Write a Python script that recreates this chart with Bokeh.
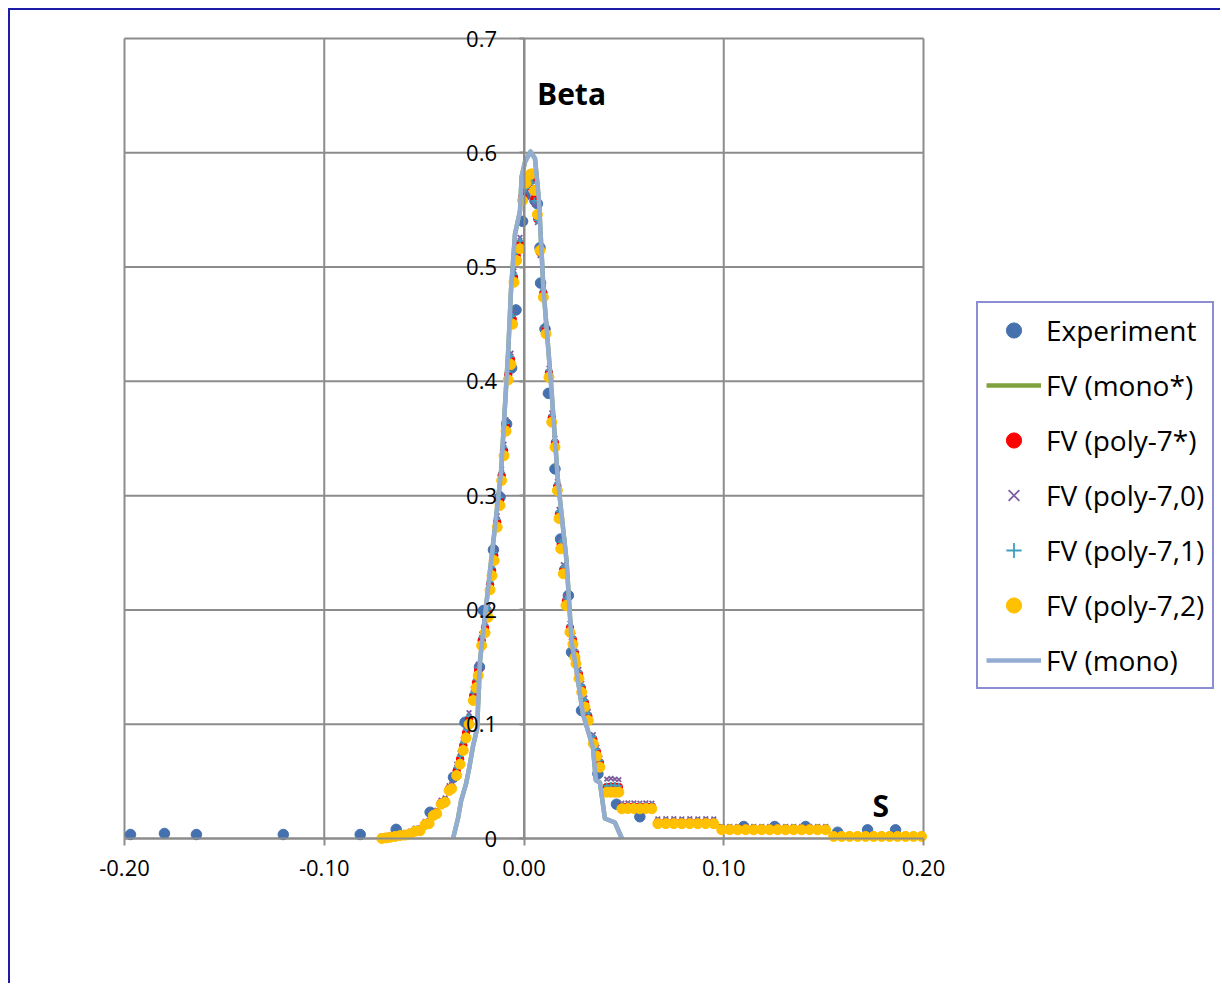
from bokeh.plotting import figure
from bokeh.models import Legend, LegendItem, FixedTicker, Label
from bokeh.embed import file_html
from bokeh.resources import INLINE

# ---------------- data ----------------
x_ticks = [-0.2, -0.1, 0.0, 0.1, 0.2]
x_tick_labels = ["-0.20", "-0.10", "0.00", "0.10", "0.20"]
y_ticks = [0, 0.1, 0.2, 0.3, 0.4, 0.5, 0.6, 0.7]
y_tick_labels = ["0", "0.1", "0.2", "0.3", "0.4", "0.5", "0.6", "0.7"]

x_exp = [-0.197, -0.180, -0.164, -0.1205, -0.082, -0.064, -0.047, -0.0353, -0.0295, -0.0223,
         -0.0203, -0.0153, -0.012, -0.0087, -0.0062, -0.004, -0.0007, 0.0005, 0.0055, 0.0067,
         0.008, 0.0083, 0.0105, 0.0122, 0.0155, 0.0183, 0.0222, 0.0238, 0.0288, 0.037,
         0.0463, 0.058, 0.110, 0.1255, 0.141, 0.157, 0.172, 0.186]
y_exp = [0.0035, 0.0044, 0.0035, 0.0035, 0.0035, 0.008, 0.023, 0.0536, 0.1017, 0.150,
         0.1995, 0.2526, 0.2987, 0.3627, 0.4117, 0.4625, 0.540, 0.5625, 0.558, 0.5554,
         0.517, 0.486, 0.4459, 0.3895, 0.3234, 0.262, 0.2126, 0.163, 0.112, 0.0566,
         0.030, 0.019, 0.0105, 0.0105, 0.0105, 0.0055, 0.0076, 0.0076]

x_mono = [-0.0355, -0.0330, -0.0315, -0.0290, -0.0275, -0.0255, -0.0235, -0.0220, -0.0115, -0.0078,
          -0.0065, -0.0053, -0.0045, -0.0020, -0.0012, 0.0005, 0.0033, 0.0055, 0.0075, 0.0085,
          0.0097, 0.0134, 0.0170, 0.0213, 0.0238, 0.0263, 0.0295, 0.0345, 0.0360, 0.0380,
          0.0405, 0.0455, 0.0490]
y_mono = [0.000, 0.018, 0.033, 0.048, 0.061, 0.081, 0.096, 0.156, 0.320, 0.430,
          0.480, 0.509, 0.529, 0.549, 0.579, 0.592, 0.601, 0.595, 0.558, 0.523,
          0.482, 0.401, 0.313, 0.243, 0.173, 0.147, 0.109, 0.080, 0.051, 0.049,
          0.0175, 0.014, 0.000]

x_fv = [-0.0712, -0.0690, -0.0670, -0.0645, -0.0620, -0.0595, -0.0570, -0.0545, -0.0520, -0.0495,
        -0.0475, -0.0454, -0.0437, -0.0415, -0.0395, -0.0375, -0.0362, -0.0337, -0.0320, -0.0304,
        -0.0290, -0.0275, -0.0254, -0.0240, -0.0229, -0.0212, -0.0195, -0.0179, -0.0170, -0.0160,
        -0.0149, -0.0134, -0.0120, -0.0112, -0.0100, -0.0090, -0.0079, -0.0065, -0.0057, -0.0050,
        -0.0037, -0.0020, -0.0007, 0.0010, 0.0030, 0.0039, 0.0052, 0.0067, 0.0080, 0.0097,
        0.0110, 0.0125, 0.0139, 0.0155, 0.0167, 0.0175, 0.0184, 0.0197, 0.0210, 0.0230,
        0.0245, 0.0255, 0.0260, 0.0275, 0.0289, 0.0305, 0.0322, 0.0347, 0.0365, 0.0380,
        0.0414, 0.0435, 0.0455, 0.0475, 0.0490, 0.0520, 0.0550, 0.0580, 0.0610, 0.0640,
        0.0670, 0.0710, 0.0750, 0.0790, 0.0830, 0.0870, 0.0910, 0.0950, 0.0990, 0.1030,
        0.1070, 0.1110, 0.1150, 0.1190, 0.1230, 0.1270, 0.1310, 0.1350, 0.1390, 0.1430,
        0.1470, 0.1510, 0.1550, 0.1590, 0.1630, 0.1670, 0.1710, 0.1750, 0.1790, 0.1830,
        0.1870, 0.1910, 0.1950, 0.1990]

y_poly7s = [0.0005, 0.0010, 0.0016, 0.0023, 0.0031, 0.0036, 0.0048, 0.0072, 0.0076, 0.0131,
            0.0140, 0.0212, 0.0228, 0.0313, 0.0332, 0.0436, 0.0452, 0.0596, 0.0695, 0.0815,
            0.0925, 0.1045, 0.1252, 0.1365, 0.1471, 0.1734, 0.1845, 0.1981, 0.2221, 0.2345,
            0.2477, 0.2769, 0.2959, 0.3177, 0.3395, 0.3609, 0.4058, 0.4192, 0.4545, 0.4912,
            0.5102, 0.5205, 0.5620, 0.5700, 0.5780, 0.5760, 0.5600, 0.5420, 0.5130, 0.4776,
            0.4456, 0.4076, 0.3683, 0.3464, 0.3085, 0.2840, 0.2575, 0.2356, 0.2079, 0.1845,
            0.1740, 0.1626, 0.1569, 0.1440, 0.1320, 0.1190, 0.1072, 0.0869, 0.0760, 0.0664,
            0.0450, 0.0455, 0.0455, 0.0450, 0.0280, 0.0282, 0.0282, 0.0280, 0.0282, 0.0280,
            0.0145, 0.0146, 0.0146, 0.0145, 0.0146, 0.0145, 0.0146, 0.0145, 0.0088, 0.0089,
            0.0088, 0.0089, 0.0088, 0.0089, 0.0088, 0.0089, 0.0088, 0.0089, 0.0088, 0.0089,
            0.0088, 0.0088, 0.0025, 0.0025, 0.0025, 0.0025, 0.0025, 0.0025, 0.0025, 0.0025,
            0.0025, 0.0025, 0.0025, 0.0025]

y_poly70 = [0.0020, 0.0025, 0.0031, 0.0038, 0.0046, 0.0052, 0.0065, 0.0090, 0.0095, 0.0150,
            0.0158, 0.0232, 0.0248, 0.0335, 0.0356, 0.0462, 0.0478, 0.0651, 0.0750, 0.0870,
            0.0980, 0.1100, 0.1307, 0.1420, 0.1526, 0.1789, 0.1900, 0.2036, 0.2276, 0.2400,
            0.2532, 0.2824, 0.3014, 0.3232, 0.3450, 0.3664, 0.4113, 0.4247, 0.4600, 0.4967,
            0.5157, 0.5260, 0.5560, 0.5670, 0.5730, 0.5700, 0.5550, 0.5390, 0.5100, 0.4816,
            0.4496, 0.4116, 0.3723, 0.3504, 0.3125, 0.2880, 0.2615, 0.2396, 0.2119, 0.1885,
            0.1780, 0.1666, 0.1609, 0.1480, 0.1360, 0.1230, 0.1112, 0.0909, 0.0800, 0.0704,
            0.0520, 0.0525, 0.0520, 0.0515, 0.0310, 0.0312, 0.0312, 0.0310, 0.0312, 0.0310,
            0.0172, 0.0173, 0.0173, 0.0172, 0.0173, 0.0172, 0.0173, 0.0172, 0.0105, 0.0106,
            0.0105, 0.0106, 0.0105, 0.0106, 0.0105, 0.0106, 0.0105, 0.0106, 0.0105, 0.0106,
            0.0105, 0.0105, 0.0035, 0.0035, 0.0035, 0.0035, 0.0035, 0.0035, 0.0035, 0.0035,
            0.0035, 0.0035, 0.0035, 0.0035]

y_poly71 = [0.0010, 0.0015, 0.0020, 0.0028, 0.0036, 0.0040, 0.0052, 0.0075, 0.0080, 0.0133,
            0.0142, 0.0215, 0.0230, 0.0318, 0.0338, 0.0440, 0.0455, 0.0621, 0.0720, 0.0840,
            0.0950, 0.1070, 0.1277, 0.1390, 0.1496, 0.1759, 0.1870, 0.2006, 0.2246, 0.2370,
            0.2502, 0.2794, 0.2984, 0.3202, 0.3420, 0.3634, 0.4083, 0.4217, 0.4570, 0.4937,
            0.5127, 0.5230, 0.5600, 0.5690, 0.5760, 0.5740, 0.5580, 0.5410, 0.5120, 0.4796,
            0.4476, 0.4096, 0.3703, 0.3484, 0.3105, 0.2860, 0.2595, 0.2376, 0.2099, 0.1865,
            0.1760, 0.1646, 0.1589, 0.1460, 0.1340, 0.1210, 0.1092, 0.0889, 0.0780, 0.0684,
            0.0460, 0.0465, 0.0465, 0.0460, 0.0290, 0.0292, 0.0292, 0.0290, 0.0292, 0.0290,
            0.0155, 0.0156, 0.0156, 0.0155, 0.0156, 0.0155, 0.0156, 0.0155, 0.0093, 0.0094,
            0.0093, 0.0094, 0.0093, 0.0094, 0.0093, 0.0094, 0.0093, 0.0094, 0.0093, 0.0094,
            0.0093, 0.0093, 0.0028, 0.0028, 0.0028, 0.0028, 0.0028, 0.0028, 0.0028, 0.0028,
            0.0028, 0.0028, 0.0028, 0.0028]

y_poly72 = [0.0000, 0.0005, 0.0011, 0.0018, 0.0026, 0.0030, 0.0041, 0.0064, 0.0068, 0.0122,
            0.0130, 0.0201, 0.0216, 0.0300, 0.0318, 0.0420, 0.0435, 0.0551, 0.0650, 0.0770,
            0.0880, 0.1000, 0.1207, 0.1320, 0.1426, 0.1689, 0.1800, 0.1936, 0.2176, 0.2300,
            0.2432, 0.2724, 0.2914, 0.3132, 0.3350, 0.3564, 0.4013, 0.4147, 0.4500, 0.4867,
            0.5057, 0.5160, 0.5582, 0.5734, 0.5810, 0.5816, 0.5670, 0.5460, 0.5145, 0.4736,
            0.4416, 0.4036, 0.3643, 0.3424, 0.3045, 0.2800, 0.2535, 0.2316, 0.2039, 0.1805,
            0.1700, 0.1586, 0.1529, 0.1400, 0.1280, 0.1150, 0.1032, 0.0829, 0.0720, 0.0624,
            0.0405, 0.0405, 0.0405, 0.0405, 0.0260, 0.0262, 0.0262, 0.0260, 0.0262, 0.0260,
            0.0129, 0.0130, 0.0130, 0.0129, 0.0130, 0.0129, 0.0130, 0.0129, 0.0076, 0.0077,
            0.0076, 0.0077, 0.0076, 0.0077, 0.0076, 0.0077, 0.0076, 0.0077, 0.0076, 0.0077,
            0.0076, 0.0076, 0.0018, 0.0018, 0.0018, 0.0018, 0.0018, 0.0018, 0.0018, 0.0018,
            0.0018, 0.0018, 0.0018, 0.0018]

series_names = ["Experiment", "FV (mono*)", "FV (poly-7*)", "FV (poly-7,0)",
                "FV (poly-7,1)", "FV (poly-7,2)", "FV (mono)"]

# ---------------- styles / layout ----------------
GRID = "#8C8C8C"
BLUE_FRAME = "#1C1CA8"
FONT = "Open Sans"
C_EXP = "#4572AE"
C_MONO_S = "#7FA23F"
C_RED = "#FF0000"
C_PURPLE = "#7D5FA0"
C_TEAL = "#3E9FBF"
C_YELLOW = "#FFC000"
C_MONO = "#93ADD2"

# page offset of the canvas (outer chart-area border drawn with CSS)
OFF = 10
W, H = 1222 - OFF, 985 - OFF
PX_X = 799 / 0.4          # px per x unit
PX_Y = 800 / 0.7          # px per y unit
X0_PX = 124 - OFF         # canvas px of x = -0.2
Y7_PX = 38 - OFF          # canvas px of y = 0.7
FL, FB = 70, 60           # frame left border, bottom border
x_start = -0.2 - (X0_PX - FL) / PX_X
x_end = -0.2 + (W - X0_PX) / PX_X
y_end = 0.7 + Y7_PX / PX_Y
y_start = y_end - (H - FB) / PX_Y

p = figure(width=W, height=H, x_range=(x_start, x_end), y_range=(y_start, y_end),
           output_backend="svg", toolbar_location=None,
           min_border_left=FL, min_border_right=0, min_border_top=0, min_border_bottom=FB,
           background_fill_color="white", border_fill_color="white",
           outline_line_color=None)
p.styles = {"margin-left": "8px", "margin-top": "8px",
            "border-left": "2px solid " + BLUE_FRAME, "border-top": "2px solid " + BLUE_FRAME}

p.grid.visible = False

# grid lines (from the tick lists), drawn beneath the data
n_x, n_y = len(x_ticks), len(y_ticks)
p.segment(x0=x_ticks, y0=[y_ticks[0]] * n_x, x1=x_ticks, y1=[y_ticks[-1]] * n_x,
          line_color=GRID, line_width=2)
p.segment(x0=[x_ticks[0]] * n_y, y0=y_ticks, x1=[x_ticks[-1]] * n_y, y1=y_ticks,
          line_color=GRID, line_width=2)

# axes crossing at the origin
p.xaxis.ticker = FixedTicker(ticks=x_ticks)
p.xaxis.major_label_overrides = dict(zip(x_ticks, x_tick_labels))
p.xaxis.fixed_location = 0
p.xaxis.bounds = (x_ticks[0], x_ticks[-1])
p.yaxis.ticker = FixedTicker(ticks=y_ticks)
p.yaxis.major_label_overrides = dict(zip(y_ticks, y_tick_labels))
p.yaxis.fixed_location = 0
p.yaxis.bounds = (y_ticks[0], y_ticks[-1])
for ax in (p.xaxis, p.yaxis):
    ax.axis_line_color = GRID
    ax.axis_line_width = 2
    ax.major_tick_line_color = GRID
    ax.major_tick_line_width = 2
    ax.major_tick_in = 0
    ax.minor_tick_line_color = None
    ax.major_label_text_font = FONT
    ax.major_label_text_font_size = "22px"
    ax.major_label_text_color = "black"
p.xaxis.major_tick_out = 7
p.xaxis.major_label_standoff = 14
p.yaxis.major_tick_out = 5
p.yaxis.major_label_standoff = 22

# series (drawn in Excel order)
r_exp = p.scatter(x_exp, y_exp, marker="circle", size=10.5, fill_color=C_EXP, line_color=C_EXP)
r_mono_s = p.line(x_mono, y_mono, line_color=C_MONO_S, line_width=4.5, line_join="round")
r_red = p.scatter(x_fv, y_poly7s, marker="circle", size=7.5, fill_color=C_RED, line_color=C_RED)
r_pur = p.scatter(x_fv, y_poly70, marker="x", size=6.5, line_color=C_PURPLE, line_width=1.8)
r_teal = p.scatter(x_fv, y_poly71, marker="cross", size=6.5, line_color=C_TEAL, line_width=1.8)
r_yel = p.scatter(x_fv, y_poly72, marker="circle", size=10, fill_color=C_YELLOW, line_color=C_YELLOW)
r_mono = p.line(x_mono, y_mono, line_color=C_MONO, line_width=4.5, line_join="round")

renderers = [r_exp, r_mono_s, r_red, r_pur, r_teal, r_yel, r_mono]
legend = Legend(items=[LegendItem(label=n, renderers=[r]) for n, r in zip(series_names, renderers)],
                location=(976 - OFF - FL, (H - FB) - (689 - OFF)), orientation="vertical",
                border_line_color=BLUE_FRAME, border_line_width=2,
                background_fill_color="white", background_fill_alpha=1,
                label_text_font=FONT, label_text_font_size="28px", label_text_color="black",
                glyph_width=55, glyph_height=38, label_height=38, label_standoff=5,
                spacing=17, padding=8, margin=0)
p.add_layout(legend)

p.add_layout(Label(x=0.0065, y=0.652, text="Beta", text_font=FONT, text_font_style="bold",
                   text_font_size="30px", text_color="black", text_baseline="alphabetic"))
p.add_layout(Label(x=0.1745, y=0.029, text="S", text_font=FONT, text_font_style="bold",
                   text_font_size="30px", text_color="black", text_baseline="alphabetic"))

open("out.html", "w").write(file_html(p, INLINE))
